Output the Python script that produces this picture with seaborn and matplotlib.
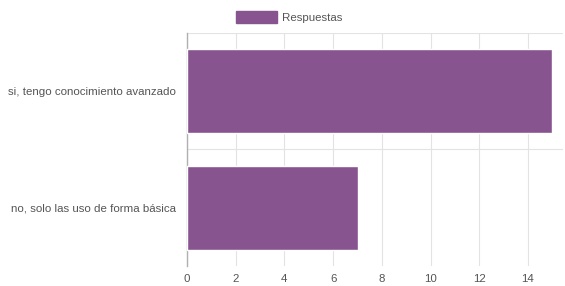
import matplotlib
matplotlib.use("Agg")
import matplotlib.pyplot as plt
import seaborn as sns
import pandas as pd

# data
categories = ["si, tengo conocimiento avanzado", "no, solo las uso de forma básica"]
respuestas = [15, 7]
x_ticks = [0, 2, 4, 6, 8, 10, 12, 14]

df = pd.DataFrame({"categoria": categories, "Respuestas": respuestas})

sns.set_style("white")
plt.rcParams["font.family"] = ["Liberation Sans", "DejaVu Sans"]

fig = plt.figure(figsize=(5.65, 2.86), dpi=100)
ax = fig.add_axes([0.331, 0.070, 0.666, 0.815])

bar_color = "#875490"
sns.barplot(data=df, y="categoria", x="Respuestas", orient="h", color=bar_color,
            width=0.72, saturation=1, ax=ax, zorder=3)

ax.set_xlim(0, 15.45)
ax.set_ylim(1.5, -0.5)
ax.set_xticks(x_ticks)
ax.set_xlabel("")
ax.set_ylabel("")

# grid: vertical at ticks, horizontal at category boundaries
ax.set_yticks([0.5], minor=True)
ax.grid(axis="x", color="#e3e3e3", linewidth=0.8, zorder=0)
ax.grid(axis="y", which="minor", color="#e3e3e3", linewidth=0.8, zorder=0)
ax.axhline(-0.5, color="#e3e3e3", linewidth=0.8, zorder=0)
ax.tick_params(axis="both", which="major", length=0, labelsize=8.25, labelcolor="#555555")
ax.tick_params(axis="y", which="minor", length=7, width=0.8, color="#e3e3e3")
ax.tick_params(axis="y", pad=8)
ax.tick_params(axis="x", pad=6)

for s in ["top", "right", "bottom"]:
    ax.spines[s].set_visible(False)
ax.spines["left"].set_color("#b0b0b0")
ax.spines["left"].set_linewidth(1.0)

handle = plt.Rectangle((0, 0), 1, 1, color=bar_color)
fig.legend([handle], ["Respuestas"], loc="center", bbox_to_anchor=(0.512, 0.94),
           frameon=False, fontsize=8.25, handlelength=3.6, handleheight=1.2,
           handletextpad=0.45, labelcolor="#555555")

fig.savefig("out.png", dpi=100)
